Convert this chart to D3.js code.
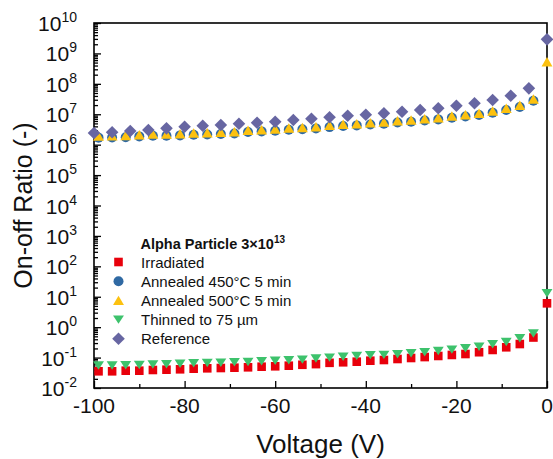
<!DOCTYPE html>
<html><head><meta charset="utf-8">
<script src="https://cdn.jsdelivr.net/npm/d3@7"></script>
<style>
html,body{margin:0;padding:0;background:#fff;}
svg{display:block;font-family:"Liberation Sans",Arial,sans-serif;}
</style></head>
<body><svg id="chart" width="553" height="459"></svg>
<script>
// ---- data ----
const volt3 = [-99,-96,-93,-90,-87,-84,-81,-78,-75,-72,-69,-66,-63,-60,-57,-54,-51,-48,-45,-42,-39,-36,-33,-30,-27,-24,-21,-18,-15,-12,-9,-6,-3,0];
const volt4 = [-100,-96,-92,-88,-84,-80,-76,-72,-68,-64,-60,-56,-52,-48,-44,-40,-36,-32,-28,-24,-20,-16,-12,-8,-4,0];
const irradiated = [0.0354,0.0354,0.0371,0.0371,0.0391,0.0400,0.0412,0.0431,0.0444,0.0454,0.0465,0.0479,0.0501,0.0517,0.0541,0.0580,0.0610,0.0673,0.0700,0.0733,0.0789,0.0832,0.0898,0.0969,0.104,0.113,0.122,0.131,0.150,0.178,0.218,0.279,0.457,6.08];
const annealed450 = [1.70e6,1.73e6,1.76e6,1.87e6,1.97e6,1.97e6,2.02e6,2.13e6,2.16e6,2.24e6,2.34e6,2.60e6,2.73e6,2.88e6,3.10e6,3.22e6,3.43e6,3.78e6,4.11e6,4.30e6,4.60e6,4.88e6,5.35e6,5.68e6,6.23e6,6.77e6,7.70e6,8.49e6,9.50e6,1.13e7,1.38e7,1.73e7,2.78e7,null];
const annealed500 = [1.92e6,1.97e6,2.00e6,2.12e6,2.24e6,2.24e6,2.29e6,2.42e6,2.45e6,2.55e6,2.66e6,2.96e6,3.10e6,3.27e6,3.52e6,3.66e6,3.90e6,4.30e6,4.67e6,4.89e6,5.23e6,5.55e6,6.08e6,6.46e6,7.08e6,7.69e6,8.75e6,9.65e6,1.08e7,1.28e7,1.57e7,1.97e7,3.16e7,5.3e8];
const thinned = [0.0550,0.0550,0.0562,0.0570,0.0592,0.0605,0.0624,0.0649,0.0664,0.0679,0.0700,0.0716,0.0755,0.0789,0.0814,0.0860,0.0930,0.100,0.107,0.114,0.120,0.123,0.129,0.139,0.149,0.165,0.182,0.202,0.228,0.273,0.325,0.430,0.619,13.0];
const reference = [2.42e6,2.55e6,2.81e6,3.03e6,3.44e6,3.89e6,4.20e6,4.43e6,4.89e6,5.27e6,5.68e6,6.46e6,7.13e6,7.93e6,8.95e6,9.65e6,1.07e7,1.21e7,1.38e7,1.57e7,1.91e7,2.29e7,2.94e7,4.07e7,7.10e7,2.90e9];

const seriesNames = ["Irradiated","Annealed 450°C 5 min","Annealed 500°C 5 min","Thinned to 75 µm","Reference"];
const legendTitle = "Alpha Particle 3×10";
const legendTitleExp = "13";
const xTicks = [-100,-80,-60,-40,-20,0];
const xMinorTicks = [-90,-70,-50,-30,-10];
const yTickExps = [-2,-1,0,1,2,3,4,5,6,7,8,9,10];
const xTitle = "Voltage (V)";
const yTitle = "On-off Ratio (-)";

// ---- layout ----
const L = 94, R = 547, T = 23, B = 388;
const svg = d3.select("#chart");

const x = d3.scaleLinear().domain([-100, 0]).range([L, R]);
const y = d3.scaleLog().domain([1e-2, 1e10]).range([B, T]);

// marker shapes (bbox centred)
const shapes = {
  square: s => { const h = s/2; return `M${-h},${-h}H${h}V${h}H${-h}Z`; },
  circle: s => { const r = s/2; return `M${r},0A${r},${r} 0 1,1 ${-r},0A${r},${r} 0 1,1 ${r},0Z`; },
  up: s => `M0,${-s*0.45}L${s*0.52},${s*0.45}L${-s*0.52},${s*0.45}Z`,
  down: s => `M${-s*0.52},${-s*0.4}L${s*0.52},${-s*0.4}L0,${s*0.4}Z`,
  diamond: s => `M0,${-s*0.6}L${s*0.6},0L0,${s*0.6}L${-s*0.6},0Z`
};

const series = [
  {name: seriesNames[0], xs: volt3, ys: irradiated, color: "#e8000b", shape: "square", size: 8.6},
  {name: seriesNames[1], xs: volt3, ys: annealed450, color: "#2f69a3", shape: "circle", size: 10},
  {name: seriesNames[2], xs: volt3, ys: annealed500, color: "#fcc10f", shape: "up", size: 10.5},
  {name: seriesNames[3], xs: volt3, ys: thinned, color: "#3dc26c", shape: "down", size: 10.5},
  {name: seriesNames[4], xs: volt4, ys: reference, color: "#6766a2", shape: "diamond", size: 10.5}
];

// ---- axes (ticks inward) ----
const xAxisMajor = d3.axisBottom(x).tickValues(xTicks).tickSize(-7).tickFormat("");
const xAxisMinor = d3.axisBottom(x).tickValues(xMinorTicks).tickSize(-4).tickFormat("");
const yMajorVals = yTickExps.map(e => Math.pow(10, e));
const yMinorVals = [];
yTickExps.slice(0, -1).forEach(e => { for (let m = 2; m <= 9; m++) yMinorVals.push(m * Math.pow(10, e)); });
const yAxisMajor = d3.axisLeft(y).tickValues(yMajorVals).tickSize(-7).tickFormat("");
const yAxisMinor = d3.axisLeft(y).tickValues(yMinorVals).tickSize(-4).tickFormat("");

function styleAxis(g){ g.select(".domain").remove(); g.selectAll("line").attr("stroke","#000").attr("stroke-width",1.3); }
svg.append("g").attr("transform",`translate(0,${B})`).call(xAxisMajor).call(styleAxis);
svg.append("g").attr("transform",`translate(0,${B})`).call(xAxisMinor).call(styleAxis);
svg.append("g").attr("transform",`translate(${L},0)`).call(yAxisMajor).call(styleAxis);
svg.append("g").attr("transform",`translate(${L},0)`).call(yAxisMinor).call(styleAxis);

// frame
svg.append("rect").attr("x",L).attr("y",T).attr("width",R-L).attr("height",B-T)
  .attr("fill","none").attr("stroke","#000").attr("stroke-width",1.6);

// x tick labels
svg.append("g").selectAll("text").data(xTicks).join("text")
  .attr("x", d => x(d)).attr("y", B + 25)
  .attr("text-anchor","middle").attr("font-size",21).attr("fill","#111")
  .text(d => String(d));

// y tick labels with superscripts
const yl = svg.append("g").selectAll("text").data(yTickExps).join("text")
  .attr("x", 77).attr("y", d => y(Math.pow(10,d)) + 8)
  .attr("text-anchor","end").attr("font-size",21).attr("fill","#111");
yl.append("tspan").text("10");
yl.append("tspan").attr("dy",-9).attr("font-size",14).text(d => String(d));

// axis titles
svg.append("text").attr("x",(L+R)/2).attr("y",453).attr("text-anchor","middle")
  .attr("font-size",26).attr("fill","#111").text(xTitle);
svg.append("text").attr("transform",`translate(32,${(T+B)/2}) rotate(-90)`)
  .attr("text-anchor","middle").attr("font-size",25).attr("fill","#111").text(yTitle);

// data marks
series.forEach(s => {
  const pts = s.xs.map((v,i)=>[v, s.ys[i]]).filter(d => d[1] != null);
  svg.append("g").selectAll("path").data(pts).join("path")
    .attr("transform", d => `translate(${x(d[0])},${y(d[1])})`)
    .attr("d", shapes[s.shape](s.size))
    .attr("fill", s.color);
});

// legend
const lg = svg.append("g");
const lt = lg.append("text").attr("x",140.5).attr("y",248.5).attr("font-size",14.5)
  .attr("font-weight","bold").attr("fill","#111");
lt.append("tspan").text(legendTitle);
lt.append("tspan").attr("dy",-6).attr("font-size",10).text(legendTitleExp);
series.forEach((s,i) => {
  const cy = 262 + i*19.2;
  lg.append("path").attr("transform",`translate(118.5,${cy})`).attr("d",shapes[s.shape](s.size)).attr("fill",s.color);
  lg.append("text").attr("x",141).attr("y",cy+5.5).attr("font-size",15).attr("fill","#111").text(s.name);
});
</script></body></html>
